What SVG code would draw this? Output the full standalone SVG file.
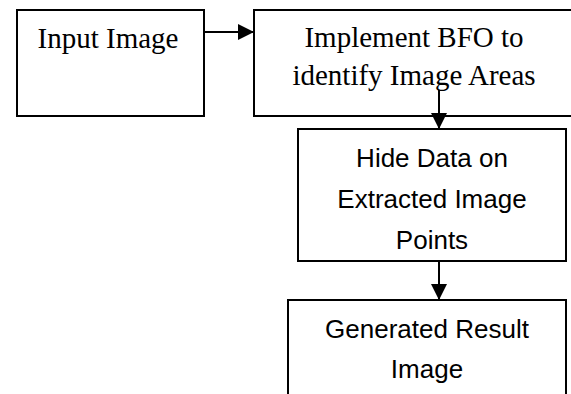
<svg xmlns="http://www.w3.org/2000/svg" width="571" height="394" viewBox="0 0 571 394">
<defs>
<marker id="ah" markerWidth="8" markerHeight="8" refX="8" refY="4" orient="auto" markerUnits="strokeWidth">
<path d="M0,0 L8,4 L0,8 Z" fill="#000"/>
</marker>
<style>
.box{fill:#fff;stroke:#000;stroke-width:2}
.serif{font-family:"Liberation Serif","Times New Roman",serif;font-size:29px;fill:#000;text-anchor:middle}
.sans{font-family:"Liberation Sans",Arial,sans-serif;font-size:26px;fill:#000;text-anchor:middle}
.conn{stroke:#000;stroke-width:2;fill:none;marker-end:url(#ah)}
</style>
</defs>
<rect width="571" height="394" fill="#fff"/>
<g id="n1">
<rect class="box" x="17" y="10" width="187" height="106"/>
<text class="serif" x="108" y="48">Input Image</text>
</g>
<g id="n2">
<rect class="box" x="254" y="10" width="330" height="106"/>
<text class="serif" x="414" y="47">Implement BFO to</text>
<text class="serif" x="414" y="85">identify Image Areas</text>
</g>
<g id="n3">
<rect class="box" x="298" y="129" width="268" height="132"/>
<text class="sans" x="432" y="167">Hide Data on</text>
<text class="sans" x="432" y="208">Extracted Image</text>
<text class="sans" x="432" y="249">Points</text>
</g>
<g id="n4">
<rect class="box" x="288" y="300" width="278" height="110"/>
<text class="sans" x="427" y="338">Generated Result</text>
<text class="sans" x="427" y="378">Image</text>
</g>
<g id="connectors">
<line class="conn" x1="204" y1="32" x2="254" y2="32"/>
<line class="conn" x1="439" y1="90" x2="439" y2="129"/>
<line class="conn" x1="439" y1="261" x2="439" y2="300"/>
</g>
</svg>
